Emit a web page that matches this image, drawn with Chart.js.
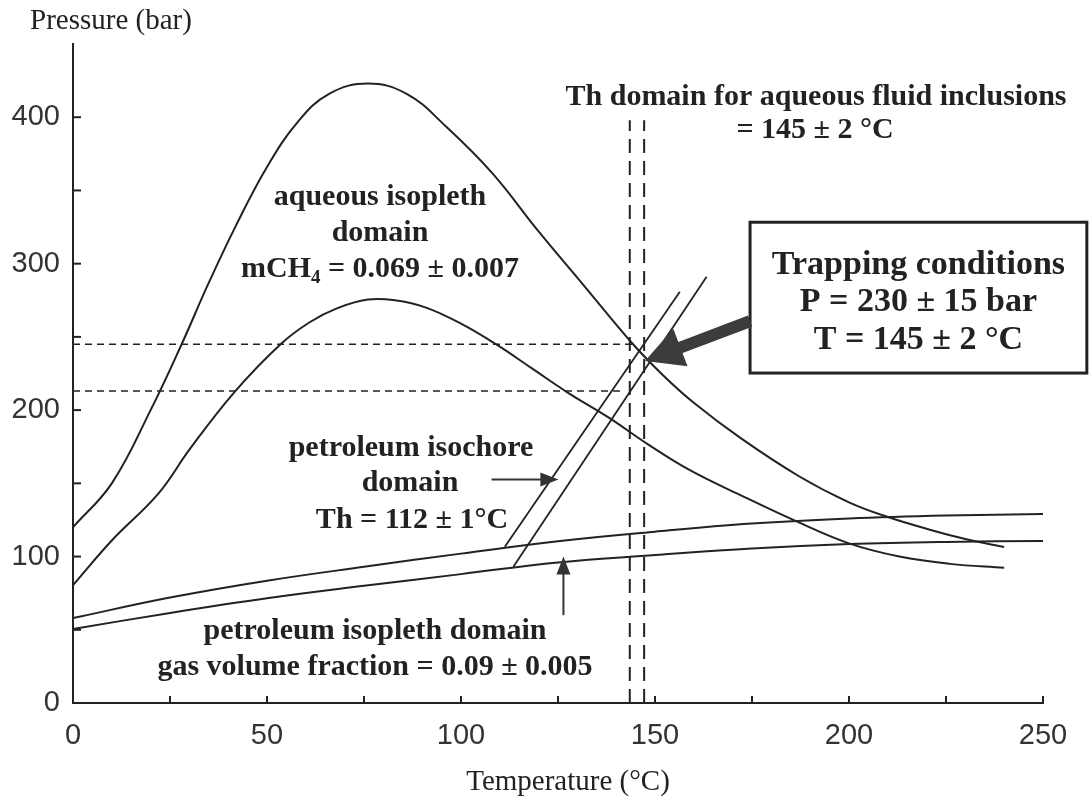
<!DOCTYPE html>
<html>
<head>
<meta charset="utf-8">
<script src="https://cdn.jsdelivr.net/npm/chart.js@4.4.1/dist/chart.umd.min.js"></script>
<style>
  html, body { margin: 0; padding: 0; background: #fff; }
</style>
</head>
<body>
<canvas id="chart" width="1090" height="802"></canvas>
<script>
// Temperature (°C) / pressure (bar)
const aqOuterT = [0, 10, 20, 28, 35, 42, 50, 58, 66, 76, 86, 96, 108, 120, 132, 144, 152, 160, 172, 187, 200, 210, 222, 230, 240]
const aqOuterP = [120, 150, 200, 245, 287, 326, 366, 397, 416, 423, 416, 394, 362, 322, 284, 246, 224, 205, 181, 155, 137, 127, 117.5, 112, 106.5]

const aqInnerT = [0, 10, 22, 30, 41.5, 53.5, 61, 68, 76, 83, 91, 100, 109, 118, 127.5, 138, 148, 159, 172, 186.5, 200, 213, 226, 240]
const aqInnerP = [80.5, 111, 143, 173, 212, 245, 260, 269.5, 275.5, 275, 270, 259, 245, 229, 212, 195, 177, 159, 142, 124, 109, 100, 95, 92.3]

const petUpperT = [0, 25, 50, 75, 100, 125, 150, 175, 200, 225, 250]
const petUpperP = [58, 72, 83.5, 93, 102, 110.5, 117, 122.5, 126, 128, 129]
const petLowerT = [0, 25, 50, 75, 100, 125, 150, 175, 200, 225, 250]
const petLowerP = [50.5, 61.5, 71.5, 80, 88, 96, 101, 105.5, 108.5, 110, 110.6]

const isochoreAT = [111.3, 156.4]
const isochoreAP = [106.7, 280.8]
const isochoreBT = [113.5, 163.3]
const isochoreBP = [93, 291]

// trapping pressure range (dashed) and Th range (dashed)
const pHighT = [0, 145]
const pHighP = [245, 245]
const pLowT = [0, 142]
const pLowP = [213, 213]
const thLeftT = [143.5, 143.5]
const thRightT = [147.2, 147.2]
const thP = [0, 398]

// annotation arrows [from, to] in data units
const isochoreArrow = [[107.9, 152.7], [125.1, 152.7]]
const isoplethArrow = [[126.4, 60], [126.4, 100]]
const trappingArrow = [[174.5, 260.8], [147.4, 233.5]]
const trappingBox = [[174.5, 328.3], [261.3, 225.3]]

const xTickMarks = [25, 50, 75, 100, 125, 150, 175, 200, 225, 250]
const yTickMarks = [50, 100, 150, 200, 250, 300, 350, 400]

const INK = '#222'
const SERIF = '"Liberation Serif", "Times New Roman", serif'

function series (T, P, extra) {
  return Object.assign({
    data: T.map((t, i) => ({ x: t, y: P[i] })),
    showLine: true,
    pointRadius: 0,
    borderColor: INK,
    borderWidth: 2,
    tension: 0,
    fill: false
  }, extra)
}

function arrow (ctx, x1, y1, x2, y2, w, hl, hw, color) {
  const a = Math.atan2(y2 - y1, x2 - x1)
  const len = Math.hypot(x2 - x1, y2 - y1)
  ctx.save()
  ctx.translate(x1, y1)
  ctx.rotate(a)
  ctx.strokeStyle = color
  ctx.fillStyle = color
  ctx.lineWidth = w
  ctx.beginPath()
  ctx.moveTo(0, 0)
  ctx.lineTo(len - hl + 2, 0)
  ctx.stroke()
  ctx.beginPath()
  ctx.moveTo(len, 0)
  ctx.lineTo(len - hl, -hw / 2)
  ctx.lineTo(len - hl, hw / 2)
  ctx.closePath()
  ctx.fill()
  ctx.restore()
}

function centered (ctx, text, cx, cy, font) {
  ctx.font = font
  ctx.textAlign = 'center'
  ctx.textBaseline = 'middle'
  ctx.fillText(text, cx, cy)
}

const overlay = {
  id: 'overlay',
  afterDatasetsDraw (chart) {
    const { ctx, scales: { x, y } } = chart
    const px = v => x.getPixelForValue(v)
    const py = v => y.getPixelForValue(v)
    ctx.save()

    // inward tick marks
    ctx.strokeStyle = INK
    ctx.lineWidth = 2
    xTickMarks.forEach(v => {
      ctx.beginPath()
      ctx.moveTo(px(v), py(0))
      ctx.lineTo(px(v), py(0) - 7)
      ctx.stroke()
    })
    yTickMarks.forEach(v => {
      ctx.beginPath()
      ctx.moveTo(px(0), py(v))
      ctx.lineTo(px(0) + 8, py(v))
      ctx.stroke()
    })

    // small pointer arrows
    arrow(ctx, px(isochoreArrow[0][0]), py(isochoreArrow[0][1]), px(isochoreArrow[1][0]), py(isochoreArrow[1][1]), 2, 18, 14, '#333')
    arrow(ctx, px(isoplethArrow[0][0]), py(isoplethArrow[0][1]), px(isoplethArrow[1][0]), py(isoplethArrow[1][1]), 2, 18, 14, '#333')

    // trapping conditions box + big arrow
    const bx1 = px(trappingBox[0][0])
    const by1 = py(trappingBox[0][1])
    const bx2 = px(trappingBox[1][0])
    const by2 = py(trappingBox[1][1])
    ctx.fillStyle = '#fff'
    ctx.fillRect(bx1, by1, bx2 - bx1, by2 - by1)
    ctx.strokeStyle = INK
    ctx.lineWidth = 3
    ctx.strokeRect(bx1, by1, bx2 - bx1, by2 - by1)
    arrow(ctx, px(trappingArrow[0][0]), py(trappingArrow[0][1]), px(trappingArrow[1][0]), py(trappingArrow[1][1]), 12, 38, 40, '#3c3c3c')

    ctx.fillStyle = INK
    const bold = size => `bold ${size}px ${SERIF}`

    // axis titles
    ctx.font = `29px ${SERIF}`
    ctx.textAlign = 'left'
    ctx.textBaseline = 'middle'
    ctx.fillText('Pressure (bar)', 30, 21)
    centered(ctx, 'Temperature (°C)', 568, 782, `29px ${SERIF}`)

    // Th domain label
    centered(ctx, 'Th domain for aqueous fluid inclusions', 816, 97, bold(30))
    centered(ctx, '= 145 ± 2 °C', 815, 130, bold(30))

    // aqueous isopleth label
    centered(ctx, 'aqueous isopleth', 380, 197, bold(30))
    centered(ctx, 'domain', 380, 233, bold(30))
    const partA = 'mCH'
    const partB = '4'
    const partC = ' = 0.069 ± 0.007'
    ctx.font = bold(30)
    const wA = ctx.measureText(partA).width
    const wC = ctx.measureText(partC).width
    ctx.font = bold(19)
    const wB = ctx.measureText(partB).width
    let sx = 380 - (wA + wB + wC) / 2
    ctx.textAlign = 'left'
    ctx.textBaseline = 'middle'
    ctx.font = bold(30)
    ctx.fillText(partA, sx, 269)
    sx += wA
    ctx.font = bold(19)
    ctx.fillText(partB, sx, 278)
    sx += wB
    ctx.font = bold(30)
    ctx.fillText(partC, sx, 269)

    // petroleum isochore label
    centered(ctx, 'petroleum isochore', 411, 448, bold(30))
    centered(ctx, 'domain', 410, 483, bold(30))
    centered(ctx, 'Th = 112 ± 1°C', 412, 520, bold(30))

    // petroleum isopleth label
    centered(ctx, 'petroleum isopleth domain', 375, 631, bold(30))
    centered(ctx, 'gas volume fraction = 0.09 ± 0.005', 375, 667, bold(30))

    // box text
    const bcx = (bx1 + bx2) / 2
    centered(ctx, 'Trapping conditions', bcx, 265, bold(34))
    centered(ctx, 'P = 230 ± 15 bar', bcx, 302, bold(34))
    centered(ctx, 'T = 145 ± 2 °C', bcx, 340, bold(34))

    ctx.restore()
  }
}

new Chart(document.getElementById('chart'), {
  type: 'scatter',
  data: {
    datasets: [
      series(aqOuterT, aqOuterP, { tension: 0.4 }),
      series(aqInnerT, aqInnerP, { tension: 0.4 }),
      series(petUpperT, petUpperP, { tension: 0.4 }),
      series(petLowerT, petLowerP, { tension: 0.4 }),
      series(isochoreAT, isochoreAP, { borderWidth: 1.8 }),
      series(isochoreBT, isochoreBP, { borderWidth: 1.8 }),
      series(pHighT, pHighP, { borderWidth: 1.6, borderDash: [7, 5] }),
      series(pLowT, pLowP, { borderWidth: 1.6, borderDash: [7, 5] }),
      series(thLeftT, thP, { borderWidth: 2, borderDash: [14, 8] }),
      series(thRightT, thP, { borderWidth: 2, borderDash: [14, 8] })
    ]
  },
  options: {
    responsive: false,
    animation: false,
    layout: { padding: { top: 44, right: 47, left: 0, bottom: 0 } },
    plugins: {
      legend: { display: false },
      tooltip: { enabled: false }
    },
    scales: {
      x: {
        type: 'linear',
        min: 0,
        max: 250,
        grid: { display: false, drawTicks: false },
        border: { display: true, color: INK, width: 2 },
        ticks: {
          stepSize: 50,
          padding: 16,
          maxRotation: 0,
          includeBounds: false,
          color: '#333',
          font: { family: '"Liberation Sans", Arial, sans-serif', size: 29 }
        },
        afterFit: s => { s.height = 99 }
      },
      y: {
        type: 'linear',
        min: 0,
        max: 450,
        grid: { display: false, drawTicks: false },
        border: { display: true, color: INK, width: 2 },
        ticks: {
          stepSize: 100,
          padding: 13,
          includeBounds: false,
          color: '#333',
          font: { family: '"Liberation Sans", Arial, sans-serif', size: 29 }
        },
        afterFit: s => { s.width = 73 }
      }
    }
  },
  plugins: [overlay]
})
</script>
</body>
</html>
